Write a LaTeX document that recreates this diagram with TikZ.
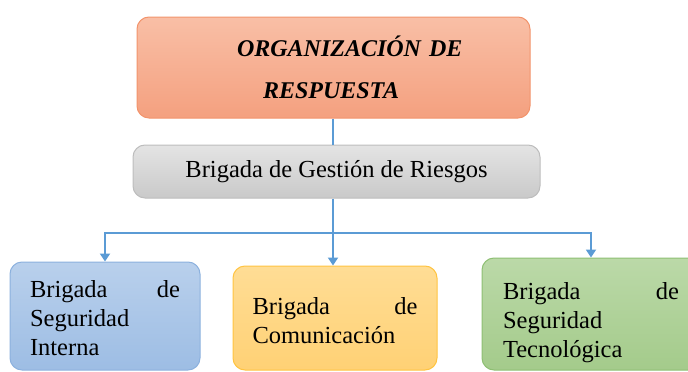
\documentclass[tikz,border=0pt]{standalone}
\usepackage{fontspec}
\setmainfont{Liberation Serif}
\usetikzlibrary{arrows.meta}

\definecolor{orgtop}{HTML}{F9BFA6}
\definecolor{orgbot}{HTML}{F4A07F}
\definecolor{orgline}{HTML}{F2946C}
\definecolor{gestop}{HTML}{E4E4E4}
\definecolor{gesbot}{HTML}{C9C9C9}
\definecolor{gesline}{HTML}{BDBDBD}
\definecolor{segtop}{HTML}{B9D0EC}
\definecolor{segbot}{HTML}{9DBDE4}
\definecolor{segline}{HTML}{8CB1DE}
\definecolor{comtop}{HTML}{FFDD95}
\definecolor{combot}{HTML}{FFD175}
\definecolor{comline}{HTML}{FFC441}
\definecolor{tectop}{HTML}{BBD9A8}
\definecolor{tecbot}{HTML}{A4CB8B}
\definecolor{tecline}{HTML}{8EBF73}
\definecolor{linkblue}{HTML}{5B9BD5}

\begin{document}
\begin{tikzpicture}[x=1pt,y=-1pt,
  box node/.style={rectangle,rounded corners=12pt,draw,line width=1pt,inner ysep=0pt},
  brig node/.style={box node,align=left,font=\fontsize{24.5}{29}\selectfont},
  link/.style={draw=linkblue,line width=1.8pt},
  arrow link/.style={link,-{Triangle[width=10pt,length=8pt]}}]
  \useasboundingbox (0,0) rectangle (688,372);
  \node[box node,top color=orgtop,bottom color=orgbot,draw=orgline,
    minimum width=393pt,minimum height=101pt,text width=393pt,inner xsep=0pt,
    align=left,font=\fontsize{24}{42}\selectfont\bfseries\itshape]
    (org) at (333.5,67.5) {\hspace*{100pt}ORGANIZACIÓN DE\\\hspace*{126pt}RESPUESTA};
  \node[box node,top color=gestop,bottom color=gesbot,draw=gesline,
    minimum width=407pt,minimum height=53pt,font=\fontsize{24.5}{29}\selectfont]
    (gest) at (336.5,171.5) {Brigada de Gestión de Riesgos};
  \node[brig node,top color=segtop,bottom color=segbot,draw=segline,
    minimum width=190pt,minimum height=108pt,text width=150pt,inner xsep=20pt]
    (seg) at (105,316) {\rule{0pt}{21pt}Brigada \hfill de\\Seguridad\\Interna};
  \node[brig node,top color=comtop,bottom color=combot,draw=comline,
    minimum width=204pt,minimum height=104pt,text width=165pt,inner xsep=19.5pt]
    (com) at (335,318) {\rule{0pt}{23pt}Brigada \hfill de\\Comunicación};
  \node[brig node,top color=tectop,bottom color=tecbot,draw=tecline,
    minimum width=218pt,minimum height=112pt,text width=176pt,inner xsep=21pt]
    (tec) at (591,314) {\rule{0pt}{35pt}Brigada \hfill de\\Seguridad\\Tecnológica};
  \coordinate (bus) at (333,233);
  \path[link] (org.south -| bus) -- (gest.north -| bus);
  \path[link] (gest.south -| bus) -- (bus);
  \path[arrow link] (bus) -| (seg.north);
  \path[arrow link] (bus) -- (bus |- com.north);
  \path[arrow link] (bus) -| (tec.north);
\end{tikzpicture}
\end{document}
